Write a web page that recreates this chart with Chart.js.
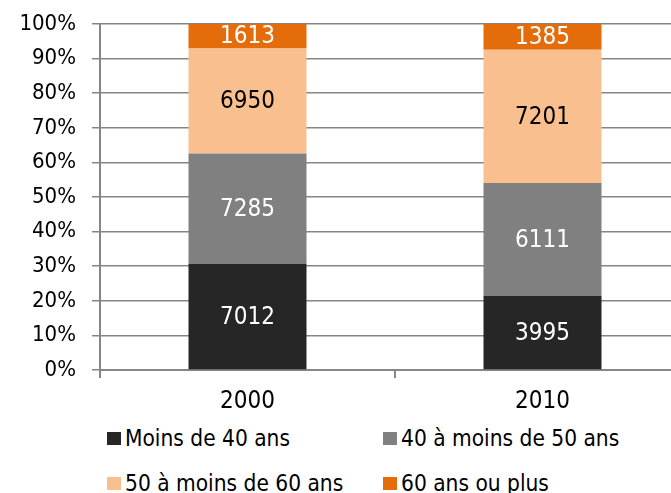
<!DOCTYPE html>
<html>
<head>
<meta charset="utf-8">
<script src="https://cdn.jsdelivr.net/npm/chart.js@4"></script>
<style>
  html, body { margin: 0; padding: 0; background: #fff; overflow: hidden; }
  #wrap { position: relative; width: 690px; height: 420px; }
  #legend { position: absolute; left: 0; top: 420px; width: 671px; height: 73px;
            font-family: "DejaVu Sans Condensed", "DejaVu Sans", sans-serif; font-size: 22.5px; color: #000; }
  .item { position: absolute; display: flex; align-items: center; white-space: nowrap; line-height: 26px; height: 26px; }
  .box { width: 14px; height: 13px; margin-right: 4px; }
</style>
</head>
<body>
<div id="wrap"><canvas id="chart" width="690" height="420"></canvas></div>
<div id="legend"></div>
<script>
const years = ["2000", "2010"];
const seriesNames = ["Moins de 40 ans", "40 à moins de 50 ans", "50 à moins de 60 ans", "60 ans ou plus"];
const under40 = [7012, 3995];
const from40to50 = [7285, 6111];
const from50to60 = [6950, 7201];
const over60 = [1613, 1385];
const yTicks = [0, 10, 20, 30, 40, 50, 60, 70, 80, 90, 100];

const colors = ["#262626", "#808080", "#F9BF8F", "#E46C0A"];
const labelColors = ["#ffffff", "#ffffff", "#000000", "#ffffff"];
const FONT = "'DejaVu Sans Condensed', 'DejaVu Sans', sans-serif";

const rawSeries = [under40, from40to50, from50to60, over60];
const totals = years.map((y, i) => rawSeries.reduce((s, arr) => s + arr[i], 0));

// value labels drawn in the middle of each segment
const valueLabels = {
    id: "valueLabels",
    afterDatasetsDraw(chart) {
        const ctx = chart.ctx;
        ctx.save();
        ctx.font = "24px " + FONT;
        ctx.textAlign = "center";
        ctx.textBaseline = "middle";
        chart.data.datasets.forEach((ds, di) => {
            chart.getDatasetMeta(di).data.forEach((bar, i) => {
                const p = bar.getProps(["x", "y", "base"], true);
                ctx.fillStyle = labelColors[di];
                ctx.fillText(String(ds.raw[i]), p.x, (p.y + p.base) / 2 + 1);
            });
        });
        ctx.restore();
    }
};

const chart = new Chart(document.getElementById("chart"), {
    type: "bar",
    data: {
        labels: years,
        datasets: rawSeries.map((arr, k) => ({
            label: seriesNames[k],
            raw: arr,
            data: arr.map((v, i) => v / totals[i] * 100),
            backgroundColor: colors[k],
            borderWidth: 0,
            barPercentage: 0.4,
            categoryPercentage: 1
        }))
    },
    options: {
        responsive: false,
        animation: false,
        layout: { padding: { top: 24, left: 0, right: 0, bottom: 0 } },
        plugins: {
            legend: { display: false },
            tooltip: { enabled: false }
        },
        scales: {
            x: {
                stacked: true,
                afterFit: s => { s.height = 50; },
                grid: { drawOnChartArea: false, drawTicks: true, tickLength: 8, color: "#868686", lineWidth: 2, offset: true },
                border: { color: "#868686", width: 2 },
                ticks: { color: "#000", font: { family: FONT, size: 24 }, padding: 9 }
            },
            y: {
                stacked: true,
                min: 0,
                max: 100,
                afterFit: s => { s.width = 100; s.paddingTop = 0; s.paddingBottom = 0; },
                afterBuildTicks: s => { s.ticks = yTicks.map(v => ({ value: v })); },
                grid: { color: "#868686", lineWidth: 1.5, tickLength: 8 },
                border: { color: "#868686", width: 2 },
                ticks: { color: "#000", font: { family: FONT, size: 22 }, padding: 16,
                         callback: v => v + "%" }
            }
        }
    },
    plugins: [valueLabels]
});

// legend laid out in two columns like the original
const legendPos = [[107, 5], [383, 5], [107, 50], [383, 50]];
const legendEl = document.getElementById("legend");
seriesNames.forEach((name, k) => {
    const item = document.createElement("div");
    item.className = "item";
    item.style.left = legendPos[k][0] + "px";
    item.style.top = legendPos[k][1] + "px";
    item.innerHTML = '<span class="box" style="background:' + colors[k] + '"></span><span>' + name + '</span>';
    legendEl.appendChild(item);
});
</script>
</body>
</html>
